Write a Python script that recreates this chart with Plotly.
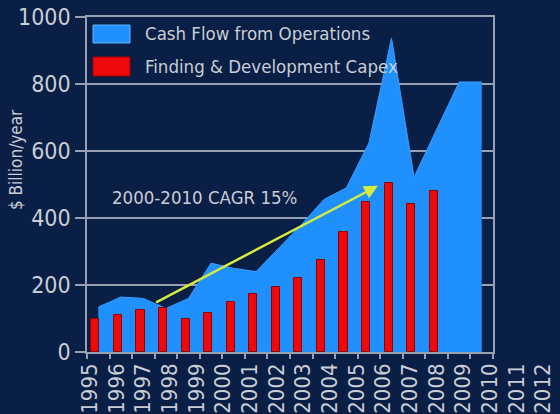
import plotly.graph_objects as go

# Cash flow from operations (area), one value per year slot
cfo_years = list(range(1995, 2013))
cfo = [134, 164, 160, 130, 160, 265, 250, 240, 310, 380, 455, 490, 624, 937, 522, 665, 806, 806]

# Finding & development capex (bars)
capex_years = list(range(1995, 2011))
capex = [100, 110, 125, 130, 100, 115, 150, 172, 195, 220, 275, 358, 448, 505, 442, 482]

# Year labels printed along the bottom
label_years = list(range(1995, 2013))
label_text = [str(y) for y in label_years]

y_ticks = [0, 200, 400, 600, 800, 1000]

BG = "#0a1f45"
TXT = "#c9cdd6"
GRID = "#97a0b2"
BLUE = "#2090ff"
RED = "#ee0a0a"
FONT = "DejaVu Sans Condensed, Liberation Sans Narrow, sans-serif"

fig = go.Figure()

fig.add_trace(go.Scatter(
    x=cfo_years, y=cfo, mode="lines", fill="tozeroy",
    line=dict(color="#3a9dff", width=1), fillcolor=BLUE,
    name="Cash Flow from Operations", showlegend=False, hoverinfo="skip",
))

fig.add_trace(go.Bar(
    x=capex_years, y=capex, width=0.36, offset=-0.31,
    marker=dict(color=RED, line=dict(color="#900000", width=1)),
    name="Finding & Development Capex", showlegend=False,
    xaxis="x3", yaxis="y",
))

# carrier trace for the year-label axis
fig.add_trace(go.Scatter(
    x=label_years, y=[None] * len(label_years), mode="markers",
    xaxis="x2", yaxis="y2", showlegend=False, hoverinfo="skip",
))

x_range = [1994.5, 2012.5]
fig.update_layout(
    width=560, height=414,
    margin=dict(l=87, r=0, t=17, b=62),
    paper_bgcolor=BG, plot_bgcolor="rgba(0,0,0,0)",
    font=dict(family=FONT, color=TXT),
    bargap=0,
    xaxis=dict(
        domain=[0, 406 / 473], range=x_range,
        tickmode="linear", tick0=1994.5, dtick=1,
        ticks="outside", ticklen=5, tickwidth=1.5, tickcolor=GRID,
        showticklabels=False, showgrid=False, zeroline=False,
        showline=True, linecolor=GRID, linewidth=1.5, mirror=True,
    ),
    xaxis3=dict(overlaying="x", range=x_range, visible=False),
    yaxis=dict(
        range=[0, 1000], tickvals=y_ticks,
        ticks="outside", ticklen=10, tickwidth=1.5, tickcolor=GRID,
        tickfont=dict(size=23, color=TXT),
        showgrid=True, gridcolor=GRID, gridwidth=1.5, zeroline=False,
        showline=True, linecolor=GRID, linewidth=1.5, mirror=True,
    ),
    xaxis2=dict(
        domain=[0, 1], anchor="y2",
        range=[1995 - 3 / 26.65, 1995 - 3 / 26.65 + 473 / 26.65],
        tickvals=label_years, ticktext=label_text, tickangle=-90,
        tickfont=dict(size=22, color=TXT), ticks="",
        showgrid=False, zeroline=False, showline=False,
        ticklabelstandoff=6,
    ),
    yaxis2=dict(domain=[0, 1], anchor="x2", visible=False, range=[0, 1]),
)

# y-axis title
fig.add_annotation(xref="paper", yref="paper", x=-71 / 473, y=192 / 335,
                   xanchor="center", yanchor="middle", textangle=-90, showarrow=False,
                   text="$ Billion/year", font=dict(size=17, color=TXT))

# legend swatches and entries
fig.add_shape(type="rect", xref="paper", yref="paper",
              x0=6 / 473, x1=43 / 473, y0=1 - 26 / 335, y1=1 - 8 / 335,
              fillcolor=BLUE, line=dict(color="#5ab6ff", width=1))
fig.add_shape(type="rect", xref="paper", yref="paper",
              x0=6 / 473, x1=43 / 473, y0=1 - 59 / 335, y1=1 - 40 / 335,
              fillcolor=RED, line=dict(color="#a00000", width=1))
fig.add_annotation(xref="paper", yref="paper", x=56 / 473, y=1 - 17 / 335,
                   xanchor="left", yanchor="middle", showarrow=False,
                   text="Cash Flow from Operations", font=dict(size=18.5, color=TXT))
fig.add_annotation(xref="paper", yref="paper", x=56 / 473, y=1 - 49 / 335,
                   xanchor="left", yanchor="middle", showarrow=False,
                   text="Finding & Development Capex", font=dict(size=18.5, color=TXT))

# growth arrow and label
fig.add_annotation(x=2007.4, y=496, ax=1997.5, ay=146, xref="x", yref="y",
                   axref="x", ayref="y", text="", showarrow=True,
                   arrowhead=2, arrowsize=1.1, arrowwidth=2.5, arrowcolor="#d6ec3c")
fig.add_annotation(x=1999.7, y=460, xref="x", yref="y", showarrow=False,
                   text="2000-2010 CAGR 15%", font=dict(size=18.5, color=TXT))

fig.write_html("out.html")
